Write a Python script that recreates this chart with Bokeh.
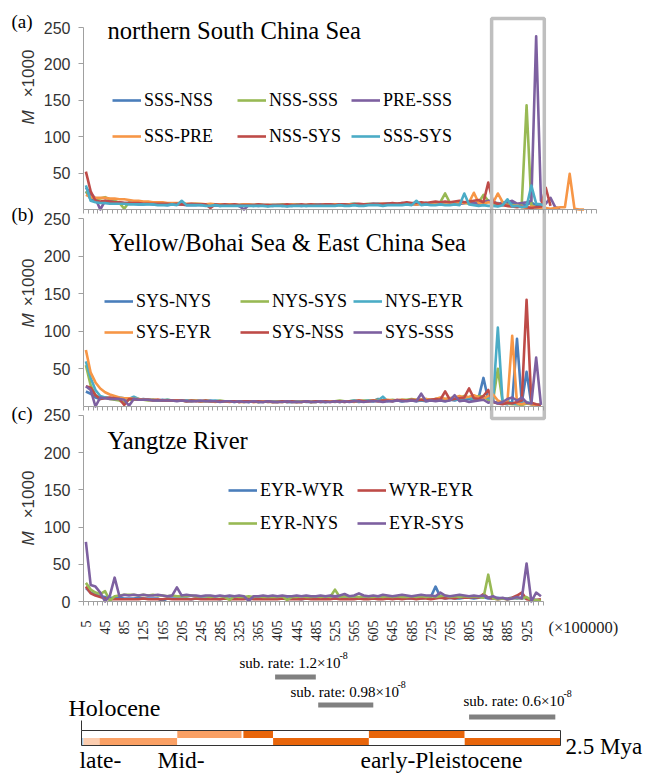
import math
from bokeh.plotting import figure
from bokeh.models import Range1d, LinearAxis, FixedTicker, Legend, LegendItem
from bokeh.embed import file_html
from bokeh.resources import INLINE
from bokeh.core.properties import value

# ---------------- data ----------------
x_cats = [5, 15, 25, 35, 45, 55, 65, 75, 85, 95, 105, 115, 125, 135, 145, 155, 165, 175, 185, 195,
          205, 215, 225, 235, 245, 255, 265, 275, 285, 295, 305, 315, 325, 335, 345, 355, 365, 375, 385, 395,
          405, 415, 425, 435, 445, 455, 465, 475, 485, 495, 505, 515, 525, 535, 545, 555, 565, 575, 585, 595,
          605, 615, 625, 635, 645, 655, 665, 675, 685, 695, 705, 715, 725, 735, 745, 755, 765, 775, 785, 795,
          805, 815, 825, 835, 845, 855, 865, 875, 885, 895, 905, 915, 925, 935, 945, 955, 965, 975, 985, 995,
          1005, 1015, 1025, 1035, 1045]
tick_labels = [5, 45, 85, 125, 165, 205, 245, 285, 325, 365, 405, 445, 485, 525, 565, 605, 645, 685,
               725, 765, 805, 845, 885, 925]
y_ticks_ab = [50, 100, 150, 200, 250]
y_ticks_c = [0, 50, 100, 150, 200, 250]

# (a) northern South China Sea
a_sss_nss = [25, 14, 11, 10, 9, 9, 8, 8, 8, 8,
             8, 7, 7, 8, 7, 7, 7, 6, 7, 7,
             7, 6, 6, 6, 7, 6, 6, 6, 5, 6,
             6, 6, 5, 6, 6, 5, 6, 6, 5, 6,
             6, 5, 6, 5, 6, 6, 5, 6, 7, 6,
             6, 7, 6, 7, 6, 7, 8, 7, 6, 7,
             8, 7, 7, 8, 7, 8, 9, 8, 7, 8,
             8, 9, 8, 7, 9, 10, 8, 9, 8, 9,
             10, 8, 9, 10, 12, 9, 7, 10, 8, 9,
             7, 8, 6, 10, 5, 4, 3]
a_nss_sss = [25, 18, 14, 15, 17, 14, 12, 9, 1, 10,
             9, 9, 8, 9, 8, 8, 9, 8, 8, 7,
             8, 7, 7, 8, 7, 7, 6, 7, 7, 6,
             7, 6, 6, 7, 6, 6, 7, 6, 6, 6,
             6, 7, 6, 6, 7, 6, 6, 7, 6, 7,
             6, 7, 7, 6, 7, 7, 8, 7, 7, 8,
             7, 8, 7, 8, 8, 7, 8, 9, 8, 7,
             8, 9, 8, 9, 10, 22, 9, 8, 10, 9,
             8, 9, 10, 20, 12, 8, 9, 7, 8, 6,
             5, 8, 143, 6, 3, 2, 1]
a_pre_sss = [30, 22, 15, 0, 12, 11, 10, 10, 9, 9,
             9, 8, 8, 8, 9, 8, 8, 7, 7, 8,
             7, 7, 7, 7, 6, 7, 7, 6, 6, 7,
             6, 6, 5, 0, 6, 6, 5, 6, 6, 5,
             6, 6, 5, 6, 6, 5, 6, 6, 6, 7,
             6, 7, 6, 7, 6, 7, 7, 6, 7, 7,
             7, 8, 7, 8, 7, 8, 8, 9, 8, 7,
             8, 9, 8, 9, 8, 10, 9, 10, 8, 9,
             10, 9, 8, 10, 12, 11, 8, 9, 10, 12,
             8, 9, 10, 12, 238, 12, 8, 16, 3, 1]
a_sss_pre = [20, 17, 16, 16, 16, 15, 15, 14, 14, 13,
             12, 12, 11, 11, 10, 10, 10, 9, 9, 9,
             9, 8, 8, 8, 8, 7, 8, 7, 7, 7,
             7, 7, 6, 7, 7, 6, 7, 6, 6, 6,
             6, 6, 6, 7, 6, 6, 6, 7, 6, 6,
             7, 6, 7, 6, 6, 7, 7, 6, 7, 7,
             7, 7, 8, 7, 7, 8, 7, 8, 8, 7,
             8, 7, 8, 9, 8, 9, 8, 9, 10, 9,
             10, 23, 9, 8, 10, 9, 22, 10, 5, 4,
             6, 3, 2, 4, 3, 2, 2, 1, 2, 3,
             3, 49, 1, 0, 0]
a_nss_sys = [52, 25, 12, 11, 12, 11, 10, 10, 9, 9,
             9, 9, 8, 8, 8, 8, 8, 8, 7, 8,
             7, 7, 8, 7, 7, 7, 2, 7, 6, 7,
             6, 7, 6, 6, 6, 6, 7, 6, 6, 6,
             6, 6, 7, 6, 6, 7, 6, 7, 6, 6,
             7, 7, 6, 7, 7, 6, 7, 8, 7, 7,
             8, 7, 8, 8, 9, 8, 9, 10, 9, 9,
             10, 9, 10, 11, 10, 11, 10, 11, 12, 10,
             11, 12, 13, 10, 37, 10, 8, 6, 5, 4,
             3, 4, 3, 2, 3, 4, 30, 5]
a_sss_sys = [33, 12, 10, 9, 9, 8, 8, 8, 8, 7,
             7, 7, 7, 7, 7, 6, 6, 6, 7, 6,
             12, 6, 6, 6, 6, 5, 5, 6, 5, 5,
             5, 5, 5, 5, 5, 5, 5, 5, 4, 5,
             5, 5, 4, 5, 5, 5, 5, 5, 5, 5,
             5, 5, 5, 6, 5, 5, 6, 5, 5, 6,
             6, 6, 5, 6, 6, 6, 6, 7, 6, 12,
             6, 7, 6, 6, 7, 6, 6, 7, 6, 22,
             7, 6, 5, 6, 5, 5, 4, 6, 14, 4,
             5, 3, 4, 33, 8, 7, 5]

# (b) Yellow/Bohai Sea & East China Sea
b_sys_nys = [20, 17, 12, 10, 12, 11, 10, 10, 11, 10,
             10, 9, 10, 9, 9, 8, 9, 8, 8, 8,
             8, 8, 7, 8, 7, 7, 8, 7, 7, 7,
             7, 7, 6, 7, 6, 7, 6, 6, 7, 6,
             6, 7, 6, 6, 6, 7, 6, 6, 7, 6,
             6, 7, 6, 7, 6, 7, 7, 6, 7, 7,
             7, 10, 7, 8, 7, 8, 7, 8, 8, 7,
             8, 7, 8, 9, 8, 7, 9, 8, 10, 9,
             10, 8, 12, 38, 9, 6, 5, 4, 3, 6,
             90, 5, 46, 3, 2, 2]
b_nys_sys = [55, 28, 15, 11, 12, 10, 9, 8, 5, 9,
             9, 10, 9, 8, 9, 8, 8, 9, 8, 8,
             8, 7, 8, 8, 7, 8, 7, 7, 8, 7,
             7, 7, 7, 6, 7, 7, 6, 7, 7, 6,
             7, 6, 7, 7, 6, 7, 7, 6, 7, 7,
             7, 7, 7, 8, 7, 7, 8, 7, 8, 8,
             8, 9, 8, 8, 9, 8, 9, 9, 10, 9,
             9, 10, 9, 10, 11, 10, 11, 12, 11, 14,
             12, 10, 14, 13, 9, 8, 50, 6, 4, 3,
             3, 2, 4, 3, 2, 2]
b_nys_eyr = [60, 38, 22, 14, 12, 11, 10, 12, 11, 10,
             13, 10, 9, 9, 9, 8, 8, 9, 8, 8,
             8, 8, 7, 8, 7, 7, 7, 8, 7, 7,
             7, 6, 7, 7, 6, 7, 6, 7, 6, 7,
             6, 7, 6, 6, 7, 6, 7, 6, 6, 7,
             6, 7, 7, 6, 7, 7, 8, 7, 7, 8,
             7, 8, 13, 7, 8, 8, 7, 8, 9, 8,
             8, 9, 8, 9, 10, 9, 10, 9, 10, 11,
             12, 10, 9, 11, 12, 8, 105, 5, 8, 4,
             3, 5, 6, 4, 2, 2]
b_sys_eyr = [75, 45, 32, 24, 19, 16, 14, 12, 11, 11,
             10, 10, 9, 9, 9, 9, 8, 8, 8, 8,
             8, 7, 7, 8, 7, 7, 7, 6, 7, 7,
             6, 7, 6, 6, 7, 6, 6, 7, 6, 6,
             6, 6, 7, 6, 6, 6, 7, 6, 6, 7,
             6, 7, 7, 6, 7, 7, 6, 8, 7, 7,
             8, 7, 8, 9, 8, 8, 9, 8, 9, 9,
             9, 10, 9, 10, 12, 10, 11, 12, 14, 12,
             13, 15, 12, 10, 14, 16, 8, 5, 6, 94,
             4, 3, 5, 3, 2, 2]
b_sys_nss = [27, 25, 15, 10, 11, 12, 11, 10, 2, 10,
             10, 9, 9, 9, 8, 9, 8, 8, 8, 8,
             8, 7, 8, 7, 7, 8, 7, 7, 7, 7,
             7, 7, 6, 7, 7, 6, 7, 6, 7, 6,
             6, 7, 6, 7, 6, 6, 7, 6, 7, 6,
             7, 6, 7, 7, 6, 7, 7, 8, 7, 7,
             8, 7, 8, 8, 7, 9, 8, 8, 9, 8,
             9, 8, 9, 10, 9, 20, 9, 10, 11, 12,
             24, 11, 10, 14, 22, 6, 4, 3, 5, 4,
             6, 8, 142, 5, 3, 2]
b_sys_sss = [27, 22, 0, 12, 11, 10, 10, 10, 9, 1,
             10, 9, 9, 9, 8, 8, 8, 8, 8, 7,
             8, 7, 7, 7, 8, 7, 7, 7, 6, 7,
             7, 6, 7, 6, 6, 7, 6, 6, 7, 6,
             6, 6, 7, 6, 6, 6, 7, 6, 6, 7,
             6, 6, 7, 6, 7, 6, 7, 7, 6, 7,
             7, 7, 6, 7, 7, 8, 7, 7, 8, 7,
             17, 7, 8, 7, 8, 7, 8, 15, 7, 8,
             6, 7, 8, 9, 5, 7, 4, 6, 10, 12,
             8, 12, 5, 4, 65, 2]

# (c) Yangtze River
c_eyr_wyr = [18, 12, 9, 7, 6, 5, 5, 5, 4, 4,
             4, 5, 4, 4, 4, 4, 1, 4, 4, 4,
             4, 4, 3, 4, 4, 4, 4, 4, 3, 4,
             4, 4, 4, 4, 3, 4, 4, 4, 4, 4,
             4, 4, 4, 4, 4, 3, 4, 4, 4, 4,
             4, 4, 4, 4, 4, 4, 4, 4, 4, 5,
             4, 4, 4, 4, 5, 4, 4, 4, 4, 5,
             4, 5, 6, 20, 6, 4, 5, 4, 4, 5,
             5, 4, 5, 6, 4, 4, 5, 4, 4, 5,
             4, 5, 4, 3, 2, 2]
c_wyr_eyr = [20, 11, 8, 6, 4, 3, 3, 3, 3, 3,
             3, 3, 4, 3, 3, 3, 3, 4, 3, 3,
             3, 3, 3, 4, 3, 3, 3, 3, 3, 4,
             3, 3, 3, 3, 4, 3, 3, 3, 3, 3,
             3, 4, 3, 3, 3, 3, 4, 3, 3, 3,
             3, 3, 4, 3, 3, 3, 3, 4, 3, 3,
             4, 3, 3, 4, 3, 4, 3, 4, 4, 3,
             4, 4, 3, 4, 5, 4, 5, 4, 6, 5,
             5, 6, 5, 10, 5, 4, 3, 4, 3, 5,
             8, 12, 3, 2, 2, 3]
c_eyr_nys = [25, 16, 12, 10, 14, 1, 7, 8, 9, 9,
             9, 8, 9, 8, 9, 8, 8, 7, 8, 7,
             7, 7, 8, 7, 7, 7, 6, 7, 7, 6,
             2, 7, 6, 6, 7, 6, 7, 6, 6, 6,
             6, 7, 2, 6, 6, 7, 6, 6, 7, 6,
             7, 6, 16, 6, 7, 6, 7, 6, 7, 6,
             6, 7, 6, 7, 6, 7, 6, 6, 7, 6,
             7, 6, 7, 6, 7, 8, 6, 7, 6, 7,
             6, 7, 6, 5, 36, 4, 3, 4, 3, 4,
             5, 4, 6, 2, 2, 1]
c_eyr_sys = [80, 22, 20, 12, 0, 8, 32, 7, 9, 8,
             9, 8, 9, 8, 8, 9, 8, 7, 8, 19,
             8, 9, 8, 8, 7, 8, 8, 7, 8, 7,
             8, 7, 8, 7, 1, 7, 7, 8, 7, 8,
             7, 8, 7, 7, 8, 7, 8, 7, 7, 8,
             7, 8, 7, 8, 10, 7, 8, 11, 8, 7,
             8, 7, 9, 8, 7, 8, 9, 8, 7, 8,
             9, 8, 8, 7, 12, 8, 7, 8, 9, 8,
             7, 8, 7, 8, 5, 7, 4, 5, 3, 4,
             6, 4, 51, 0, 12, 7]

# timeline (Mya) and substitution-rate spans (x-axis units)
tl_top_left = [0.0, 0.5, 0.845, 1.0, 1.5, 2.0]
tl_top_right = [0.5, 0.835, 1.0, 1.5, 2.0, 2.5]
tl_top_kind = ["none", "mid", "dark", "none", "dark", "none"]
tl_bot_left = [0.0, 0.0104, 0.094, 0.5, 1.0, 1.5, 2.0]
tl_bot_right = [0.0104, 0.094, 0.5, 1.0, 1.5, 2.0, 2.5]
tl_bot_kind = ["holo", "light", "mid", "none", "dark", "none", "dark"]
rate_labels = ["1.2", "0.98", "0.6"]
rate_start = [400, 490, 805]
rate_end = [485, 605, 985]

# ---------------- styling / geometry ----------------
BLUE, GREEN, PURPLE = "#4A7EBB", "#98B954", "#7D60A0"
ORANGE, RED, TEAL = "#F79646", "#BE4B48", "#4BACC6"
AX = "#A0A0A0"
SERIF = "Liberation Serif"
SANS = "Liberation Sans"
KIND_COLOR = {"none": "white", "mid": "#FAA064", "dark": "#E8650A", "light": "#FCCDAF", "holo": "#A9CDE8"}

W, H = 650, 773
X0, XS = 83, 0.479          # page x of category 0, px per category unit
M0, MS = 81, 191.6          # page x of 0 Mya, px per Mya
PANEL = {"a": (209, 0.728), "b": (406, 0.752), "c": (601, 0.745)}  # (page y of 0, px per unit)

p = figure(width=W, height=H, x_range=Range1d(0, W), y_range=Range1d(H, 0),
           x_axis_type=None, y_axis_type=None, toolbar_location=None, output_backend="svg",
           min_border=0)
p.outline_line_color = None
p.extra_x_ranges = {"cat": Range1d(-X0 / XS, (W - X0) / XS),
                    "mya": Range1d(-M0 / MS, (W - M0) / MS)}
p.extra_y_ranges = {k: Range1d((y0 - H) / s, y0 / s) for k, (y0, s) in PANEL.items()}

# y axes (one per panel, drawn at the common left edge)
for k, ticks in (("a", y_ticks_ab), ("b", y_ticks_ab), ("c", y_ticks_c)):
    ax = LinearAxis(y_range_name=k, fixed_location=X0, bounds=(0, 250),
                    ticker=FixedTicker(ticks=ticks, minor_ticks=[]),
                    axis_line_color=AX, major_tick_line_color=AX, major_tick_out=5, major_tick_in=0,
                    minor_tick_out=0, major_label_standoff=8,
                    major_label_text_font=SANS, major_label_text_font_size="16px",
                    major_label_text_color="#333333")
    p.add_layout(ax, "left")

# category axes
for k, xmax in (("a", 1070), ("b", 960), ("c", 960)):
    ax = LinearAxis(x_range_name="cat", y_range_name=k, fixed_location=0, bounds=(0, xmax),
                    ticker=FixedTicker(ticks=tick_labels if k == "c" else [],
                                       minor_ticks=list(range(0, xmax + 1, 10))),
                    axis_line_color=AX, major_tick_out=0, major_tick_in=0,
                    minor_tick_out=4, minor_tick_in=0, minor_tick_line_color=AX,
                    major_label_orientation=math.pi / 2, major_label_standoff=15,
                    major_label_text_font=SERIF, major_label_text_font_size="14px",
                    major_label_text_color="#222222")
    p.add_layout(ax, "below")

panels = {
    "a": [("SSS-NSS", a_sss_nss, BLUE), ("NSS-SSS", a_nss_sss, GREEN), ("PRE-SSS", a_pre_sss, PURPLE),
          ("SSS-PRE", a_sss_pre, ORANGE), ("NSS-SYS", a_nss_sys, RED), ("SSS-SYS", a_sss_sys, TEAL)],
    "b": [("SYS-NYS", b_sys_nys, BLUE), ("NYS-SYS", b_nys_sys, GREEN), ("NYS-EYR", b_nys_eyr, TEAL),
          ("SYS-EYR", b_sys_eyr, ORANGE), ("SYS-NSS", b_sys_nss, RED), ("SYS-SSS", b_sys_sss, PURPLE)],
    "c": [("EYR-WYR", c_eyr_wyr, BLUE), ("WYR-EYR", c_wyr_eyr, RED), ("EYR-NYS", c_eyr_nys, GREEN),
          ("EYR-SYS", c_eyr_sys, PURPLE)],
}
renderers = {}
for k, series in panels.items():
    for name, vals, color in series:
        renderers[name + k] = p.line(x=x_cats[:len(vals)], y=vals, x_range_name="cat", y_range_name=k,
                                     line_color=color, line_width=2.6, line_join="round")

# highlight box
p.quad(left=[852], right=[962], top=[18], bottom=[418], x_range_name="cat",
       fill_alpha=0, line_color="#BFBFBF", line_width=3.5)

# legends: one per column (page x of column, page y of top row, row spacing)
legend_cols = {
    "a": ([112, 237, 351], 89, 14, [["SSS-NSS", "SSS-PRE"], ["NSS-SSS", "NSS-SYS"], ["PRE-SSS", "SSS-SYS"]]),
    "b": ([104, 240, 353], 290, 9, [["SYS-NYS", "SYS-EYR"], ["NYS-SYS", "SYS-NSS"], ["NYS-EYR", "SYS-SSS"]]),
    "c": ([228, 357], 479, 11, [["EYR-WYR", "EYR-NYS"], ["WYR-EYR", "EYR-SYS"]]),
}
for k, (xs, top, sp, cols) in legend_cols.items():
    for xpage, names in zip(xs, cols):
        h = 22 * len(names) + sp * (len(names) - 1)
        lg = Legend(items=[LegendItem(label=n, renderers=[renderers[n + k]]) for n in names],
                    location=(xpage, H - (top + h)), orientation="vertical",
                    spacing=sp, padding=0, margin=0, glyph_width=29, glyph_height=22,
                    label_height=22, label_standoff=3, label_text_font=SERIF,
                    label_text_font_size="18px", label_text_color="black",
                    border_line_color=None, background_fill_alpha=0)
        p.add_layout(lg)

# panel titles and labels
p.text(x=[107, 108, 107], y=[30, 242, 440],
       text=["northern South China Sea", "Yellow/Bohai Sea & East China Sea", "Yangtze River"],
       text_font=value(SERIF), text_font_size="24.6px", text_baseline="middle", text_align="left",
       text_color="black")
p.text(x=[11, 11, 11], y=[21, 214, 413], text=["(a)", "(b)", "(c)"], text_font=value(SERIF),
       text_font_size="19px", text_baseline="middle", text_align="left", text_color="black")
p.text(x=[28, 28, 28], y=[117, 320, 538], text=["M", "M", "M"], angle=math.pi / 2,
       text_font=value(SANS), text_font_style="italic", text_font_size="17px", text_align="center",
       text_baseline="middle", text_color="#333333")
p.text(x=[28, 28, 28], y=[73, 282, 494], text=["×1000", "×1000", "×1000"], angle=math.pi / 2,
       text_font=value(SANS), text_font_size="17px", text_align="center", text_baseline="middle",
       text_color="#333333")
p.text(x=[548], y=[627], text=["(×100000)"], text_font=value(SERIF), text_font_size="16.5px",
       text_baseline="middle", text_align="left", text_color="#222222")

# ---------------- timeline ----------------
BT, BM, BB = 730, 737.5, 745
p.quad(left=tl_top_left, right=tl_top_right, top=[BT] * len(tl_top_left), bottom=[BM] * len(tl_top_left),
       fill_color=[KIND_COLOR[c] for c in tl_top_kind], line_color=None, x_range_name="mya")
p.quad(left=tl_bot_left, right=tl_bot_right, top=[BM] * len(tl_bot_left), bottom=[BB] * len(tl_bot_left),
       fill_color=[KIND_COLOR[c] for c in tl_bot_kind], line_color=None, x_range_name="mya")
p.quad(left=[0], right=[2.5], top=[BT], bottom=[BB], fill_alpha=0, line_color="#333333",
       line_width=1, x_range_name="mya")
p.segment(x0=[0], x1=[0], y0=[720], y1=[BT], x_range_name="mya", line_color="#333333", line_width=1)

p.quad(left=rate_start, right=rate_end, top=[674, 702, 714], bottom=[679, 707, 719],
       fill_color="#808080", line_color=None, x_range_name="cat")
p.text(x=[239, 290, 463], y=[662, 691, 700], text=["sub. rate: %s×10" % r for r in rate_labels],
       text_font=value(SERIF), text_font_size="15px", text_baseline="middle", text_align="left",
       text_color="black")
p.text(x=[339, 397, 563], y=[655, 684, 693], text=["-8"] * 3, text_font=value(SERIF),
       text_font_size="10px", text_baseline="middle", text_align="left", text_color="black")

p.text(x=[68], y=[707], text=["Holocene"], text_font=value(SERIF), text_font_size="24px",
       text_baseline="middle", text_align="left", text_color="black")
p.text(x=[79, 157, 360], y=[759, 759, 759], text=["late-", "Mid-", "early-Pleistocene"],
       text_font=value(SERIF), text_font_size="23.5px", text_baseline="middle", text_align="left",
       text_color="black")
p.text(x=[565], y=[746], text=["2.5 Mya"], text_font=value(SERIF), text_font_size="23px",
       text_baseline="middle", text_align="left", text_color="black")

open("out.html", "w").write(file_html(p, INLINE))
